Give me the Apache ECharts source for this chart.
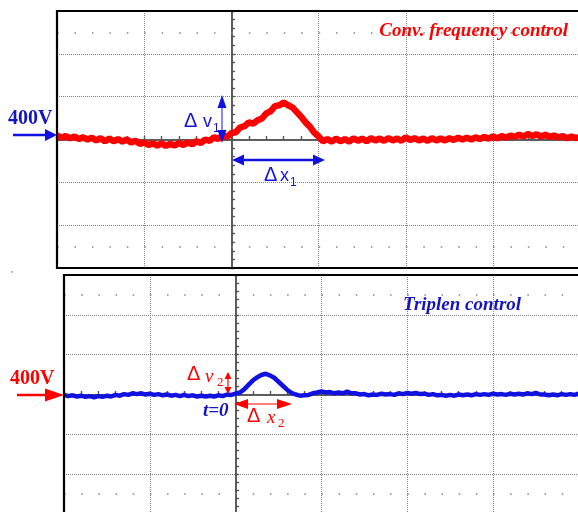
<!DOCTYPE html>
<html><head><meta charset="utf-8">
<script src="https://cdn.jsdelivr.net/npm/echarts@6/dist/echarts.min.js"></script>
<style>html,body{margin:0;padding:0;background:#fff}#c{width:578px;height:512px}</style>
</head><body><div id="c"></div>
<script>
// ---- data (time and voltage in scope divisions, one row = one time division) ----
const timeStart = -2;
const timeStep = 0.05;
const convFreqTrace = [
  0.10, 0.04, 0.08, 0.03, 0.07, 0.01, 0.05, 0.00, 0.04, -0.02, 0.03, -0.04, 0.02, -0.04, 0.01, -0.05, 0.00, -0.07, -0.03, -0.10,
  -0.07, -0.13, -0.09, -0.14, -0.09, -0.15, -0.10, -0.14, -0.08, -0.13, -0.07, -0.11, -0.04, -0.08, 0.00, -0.03, 0.05, 0.01, 0.10, 0.06,
  0.15, 0.17, 0.28, 0.31, 0.40, 0.37, 0.45, 0.49, 0.61, 0.66, 0.78, 0.80, 0.86, 0.80, 0.75, 0.64, 0.53, 0.40, 0.30, 0.16,
  0.07, -0.04, 0.01, -0.05, 0.02, -0.04, 0.01, -0.05, 0.03, -0.03, 0.02, -0.04, 0.03, -0.02, 0.02, -0.03, 0.03, -0.02, 0.02, -0.03,
  0.05, -0.01, 0.03, -0.02, 0.02, -0.03, 0.03, -0.02, 0.02, -0.02, 0.03, -0.01, 0.04, 0.00, 0.04, 0.00, 0.05, 0.01, 0.06, 0.02,
  0.07, 0.03, 0.08, 0.04, 0.09, 0.06, 0.11, 0.07, 0.13, 0.08, 0.12, 0.07, 0.11, 0.06, 0.09, 0.05, 0.08, 0.03, 0.07, 0.03,
  0.06
];
const triplenTrace = [
  -0.01, -0.04, -0.02, -0.05, -0.03, -0.06, -0.04, -0.07, -0.04, -0.06, -0.03, -0.05, -0.01, -0.03, 0.01, -0.01, 0.03, 0.01, 0.03, 0.00,
  0.02, -0.01, 0.01, -0.02, 0.00, -0.03, -0.01, -0.04, -0.01, -0.04, -0.02, -0.05, -0.03, -0.05, -0.03, -0.05, -0.02, -0.04, 0.00, -0.01,
  0.02, 0.05, 0.13, 0.24, 0.35, 0.43, 0.49, 0.52, 0.48, 0.42, 0.32, 0.22, 0.12, 0.04, 0.00, -0.03, -0.02, -0.01, 0.03, 0.05,
  0.08, 0.05, 0.06, 0.03, 0.05, 0.03, 0.07, 0.03, 0.03, 0.00, 0.01, -0.02, 0.00, -0.01, 0.02, 0.00, 0.01, -0.01, 0.03, 0.01,
  0.04, 0.02, 0.04, 0.01, 0.02, -0.01, 0.01, -0.02, -0.01, -0.03, -0.01, -0.03, 0.00, -0.02, 0.00, -0.02, 0.01, -0.01, 0.01, -0.01,
  0.02, 0.00, 0.01, -0.01, 0.02, 0.00, 0.02, 0.00, 0.03, 0.01, 0.04, 0.00, 0.00, -0.02, 0.00, -0.02, 0.01, -0.01, 0.01, -0.01,
  0.02
];
const panelTitles = ['Conv. frequency control', 'Triplen control'];
const levelLabel = '400V';
const xDivRange = [-2, 8];
const yDivRange = [-3, 3];

// ---- layout ----
const P = [
  {left: 57, top: 11, width: 872, height: 257},
  {left: 64, top: 275, width: 858, height: 239}
];
const RED = '#ff0000', BLUE = '#1212e0', TXTBLUE = '#1414c0';

function toPairs(arr) {
  return arr.map((v, i) => [+(timeStart + i * timeStep).toFixed(3), v]);
}
const axisCol = '#555';
function mkAxis(g, inside, split, range) {
  return {type: 'value', gridIndex: g, min: range[0], max: range[1], interval: 1,
    axisLabel: {show: false},
    axisLine: {show: true, onZero: true, onZeroAxisIndex: g * 2, lineStyle: {color: axisCol, width: 1.5}},
    axisTick: {show: true, inside: inside, length: 3.5, lineStyle: {color: axisCol, width: 1.2}},
    minorTick: {show: true, splitNumber: 5, length: 3.5, lineStyle: {color: axisCol, width: 1.2}},
    splitLine: {show: split, lineStyle: {type: 'dotted', color: '#808080', width: 1}}
  };
}
function dotRows(divW) {
  const d = divW / 5;
  return {silent: true, symbol: ['none', 'none'], label: {show: false}, animation: false,
    lineStyle: {type: [1.6, d - 1.6], color: '#8a8a8a', width: 1.6},
    data: [{yAxis: 2.5}, {yAxis: -2.5}]};
}

// ---- annotation helpers ----
function line(x1, y1, x2, y2, c, w) {
  return {type: 'line', z: 100, shape: {x1, y1, x2, y2}, style: {stroke: c, lineWidth: w}};
}
function head(tx, ty, dx, dy, len, half, c) {
  const bx = tx - dx * len, by = ty - dy * len;
  const px = -dy * half, py = dx * half;
  return {type: 'polygon', z: 100, shape: {points: [[tx, ty], [bx + px, by + py], [bx - px, by - py]]}, style: {fill: c}};
}
function txt(s, x, y, font, c, align) {
  return {type: 'text', z: 101, x: x, y: y, style: {text: s, font: font, fill: c, align: align || 'left', verticalAlign: 'middle'}};
}
const SERB = 'bold 20px "Liberation Serif"';
const TITLE = 'italic bold 19px "Liberation Serif"';
const DELTA = '20px "Liberation Sans"';
const SANS = '18px "Liberation Sans"';
const SUBS = '12px "Liberation Sans"';
const SERI = 'italic 19px "Liberation Serif"';
const SUBI = '13px "Liberation Serif"';

const graphics = [
  {type: 'rect', z: 99, shape: {x: P[0].left, y: P[0].top, width: P[0].width, height: P[0].height}, style: {fill: 'none', stroke: '#000', lineWidth: 2.2}},
  {type: 'rect', z: 99, shape: {x: P[1].left, y: P[1].top, width: P[1].width, height: P[1].height}, style: {fill: 'none', stroke: '#000', lineWidth: 2.2}},
  {type: 'circle', z: 99, shape: {cx: 12, cy: 272, r: 0.9}, style: {fill: '#999'}},
  // top panel
  txt(levelLabel, 8, 119, SERB, TXTBLUE),
  line(13, 135, 47, 135, BLUE, 2.5), head(57, 135, 1, 0, 12, 6, BLUE),
  txt(panelTitles[0], 568, 31.5, TITLE, RED, 'right'),
  line(222, 106, 222, 131, BLUE, 1), head(222, 95, 0, -1, 13, 4.5, BLUE), head(222, 143, 0, 1, 13, 4.5, BLUE),
  txt('Δ', 184, 121, DELTA, BLUE), txt('v', 203, 122, SANS, BLUE), txt('1', 213, 129, SUBS, BLUE),
  line(242, 160, 315, 160, BLUE, 2.5), head(232, 160, -1, 0, 12, 5.5, BLUE), head(325, 160, 1, 0, 12, 5.5, BLUE),
  txt('Δ', 264, 175, DELTA, BLUE), txt('x', 280, 176, SANS, BLUE), txt('1', 290, 183, SUBS, BLUE),
  // bottom panel
  txt(levelLabel, 10, 379, SERB, RED),
  line(17, 395, 48, 395, RED, 2.5), head(64, 395, 1, 0, 19, 6.5, RED),
  txt(panelTitles[1], 403, 305, TITLE, TXTBLUE),
  line(228, 378, 228, 388, RED, 1.2), head(228, 372, 0, -1, 7, 3.5, RED), head(228, 394, 0, 1, 7, 3.5, RED),
  txt('Δ', 187, 374, DELTA, RED), txt('v', 205, 377, SERI, RED), txt('2', 217, 383, SUBI, RED),
  txt('t=0', 203, 411.5, 'italic bold 19px "Liberation Serif"', TXTBLUE),
  line(246, 404, 279, 404, RED, 1), head(234, 404, -1, 0, 14, 5, RED), head(292, 404, 1, 0, 15, 5, RED),
  txt('Δ', 247, 416, DELTA, RED), txt('x', 267, 418, SERI, RED), txt('2', 278, 424, SUBI, RED)
];

const chart = echarts.init(document.getElementById('c'), null, {renderer: 'canvas'});
chart.setOption({
  animation: false,
  backgroundColor: '#fff',
  grid: P.map(p => Object.assign({show: false, containLabel: false, outerBoundsMode: 'none'}, p)),
  xAxis: [mkAxis(0, true, true, xDivRange), mkAxis(0, false, false, xDivRange), mkAxis(1, true, true, xDivRange), mkAxis(1, false, false, xDivRange)],
  yAxis: [mkAxis(0, true, true, yDivRange), mkAxis(0, false, false, yDivRange), mkAxis(1, true, true, yDivRange), mkAxis(1, false, false, yDivRange)],
  series: [
    {type: 'line', xAxisIndex: 0, yAxisIndex: 0, data: toPairs(convFreqTrace), symbol: 'none', z: 5,
      lineStyle: {color: RED, width: 6.5}, markLine: dotRows(P[0].width / 10)},
    {type: 'line', xAxisIndex: 2, yAxisIndex: 2, data: toPairs(triplenTrace), symbol: 'none', z: 5,
      lineStyle: {color: BLUE, width: 4.5}, markLine: dotRows(P[1].width / 10)}
  ],
  graphic: graphics
});
</script></body></html>
